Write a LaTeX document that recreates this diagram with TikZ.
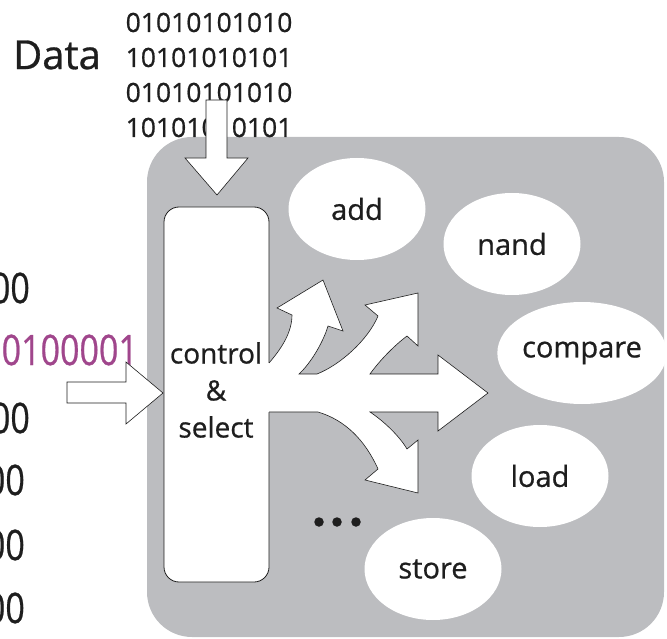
\documentclass[tikz,border=0pt]{standalone}
\usepackage{fontspec}
\setmainfont{Open Sans}[FakeBold=0.7]
\usetikzlibrary{shapes.geometric}
\definecolor{panelgray}{RGB}{188,189,192}
\definecolor{instrpurple}{RGB}{160,70,140}
\definecolor{inkblack}{RGB}{30,30,30}
\tikzset{
  panelbox/.style={fill=panelgray, rounded corners=45pt, inner sep=0pt},
  ctrlbox/.style={draw=inkblack, line width=0.8pt, fill=white, rounded corners=15pt, inner sep=0pt},
  opnode/.style={ellipse, fill=white, minimum width=137pt, minimum height=102pt, inner sep=0pt,
    font=\fontsize{29}{34}\selectfont, text=inkblack},
  blockarrow/.style={draw=inkblack, line width=0.6pt, fill=white, line join=miter},
  bitline/.style={inner sep=0pt, anchor=east, text=inkblack, xscale=0.81,
    font=\fontsize{42}{48}\selectfont},
  dotmark/.style={circle, fill=inkblack, inner sep=0pt, minimum size=9.5pt}
}
\begin{document}
\begin{tikzpicture}[x=1pt,y=-1pt]
\useasboundingbox (0,0) rectangle (667,639);
\clip (0,0) rectangle (667,639);

% processor panel
\node[panelbox, minimum width=517pt, minimum height=500pt] (panel) at (405.5,387) {};

% data words fed in from the top
\node[inner sep=0pt, text=inkblack, font=\fontsize{40}{46}\selectfont] (datalabel) at (57,55) {Data};
\node[inner sep=0pt, text=inkblack, align=center, font=\fontsize{26.5}{35}\selectfont] (databits) at (209,75)
  {01010101010\\10101010101\\01010101010\\10101010101};

% instruction words on the left
\node[bitline] (row1) at (30,288) {00};
\node[bitline, text=instrpurple] (row2) at (138,350) {0100001};
\node[bitline] (row3) at (30,418) {00};
\node[bitline] (row4) at (25,480) {00};
\node[bitline] (row5) at (25,545) {00};
\node[bitline] (row6) at (25,608) {00};

% control unit
\node[ctrlbox, minimum width=105pt, minimum height=375pt] (ctrl) at (216.5,394.5) {};

% data arrow (down) and instruction arrow (right)
\draw[blockarrow] (206,100) -- (227,100) -- (227,158) -- (248,158) -- (217,195)
  -- (185,158) -- (206,158) -- cycle;
\draw[blockarrow] (67,382) -- (126,382) -- (126,362) -- (163,393) -- (126,424)
  -- (126,403) -- (67,403) -- cycle;

% branching dispatch arrow: fill merges with the control box, outline stays open there
\fill[white] (264,363) -- (269,363) .. controls (282,348) and (292,332) .. (292,315)
  -- (277,308) -- (323,280) -- (343,331) -- (328,326)
  .. controls (324,340) and (312,362) .. (299,374) -- (317,374)
  .. controls (340,365) and (368,340) .. (378,316)
  -- (365,305) -- (418,293) -- (418,346) -- (407,336)
  .. controls (395,345) and (380,360) .. (370,374)
  -- (438,374) -- (438,355) -- (488,393) -- (438,431) -- (438,412) -- (370,412)
  .. controls (385,422) and (400,437) .. (407,449)
  -- (418,440) -- (418,493) -- (365,480) -- (378,469)
  .. controls (365,440) and (345,420) .. (318,412) -- (269,412) -- (264,412) -- cycle;
\draw[draw=inkblack, line width=0.6pt, line join=miter]
  (269,363) .. controls (282,348) and (292,332) .. (292,315)
  -- (277,308) -- (323,280) -- (343,331) -- (328,326)
  .. controls (324,340) and (312,362) .. (299,374) -- (317,374)
  .. controls (340,365) and (368,340) .. (378,316)
  -- (365,305) -- (418,293) -- (418,346) -- (407,336)
  .. controls (395,345) and (380,360) .. (370,374)
  -- (438,374) -- (438,355) -- (488,393) -- (438,431) -- (438,412) -- (370,412)
  .. controls (385,422) and (400,437) .. (407,449)
  -- (418,440) -- (418,493) -- (365,480) -- (378,469)
  .. controls (365,440) and (345,420) .. (318,412) -- (269,412);

\node[inner sep=0pt, text=inkblack, align=center, font=\fontsize{28}{37}\selectfont] (ctrltext) at (216,390)
  {control\\\&\\select};

% operations
\node[opnode] (add) at (357,209) {add};
\node[opnode] (nand) at (512,244) {nand};
\node[opnode] (compare) at (582,353) {compare};
\node[opnode] (load) at (540,476) {load};
\node[opnode] (store) at (433,569) {store};

% more operations
\node[dotmark] (dot1) at (319,522) {};
\node[dotmark] (dot2) at (337,522) {};
\node[dotmark] (dot3) at (356,522) {};
\end{tikzpicture}
\end{document}
